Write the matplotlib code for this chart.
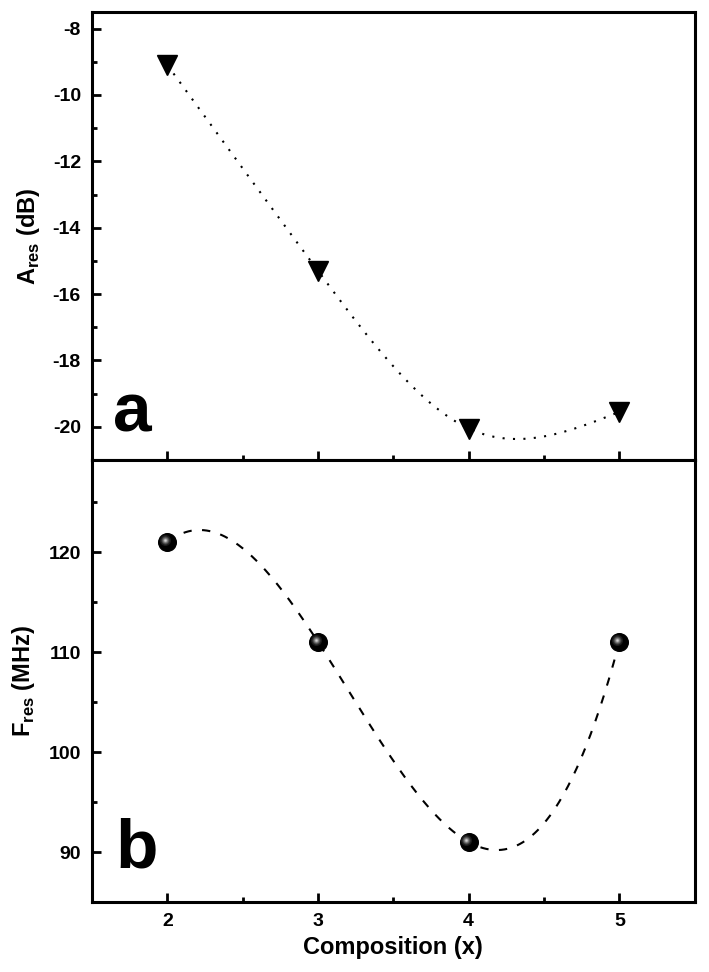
import numpy as np
import matplotlib
matplotlib.use("Agg")
import matplotlib.pyplot as plt
from matplotlib.transforms import ScaledTranslation

plt.rcParams['font.family'] = ['Liberation Sans', 'DejaVu Sans']
plt.rcParams['font.weight'] = 'bold'
plt.rcParams['mathtext.fontset'] = 'custom'
plt.rcParams['mathtext.rm'] = 'Liberation Sans:bold'
plt.rcParams['mathtext.bf'] = 'Liberation Sans:bold'
plt.rcParams['axes.unicode_minus'] = False

# data
comp = [2, 3, 4, 5]
a_res = [-9.1, -15.3, -20.05, -19.55]
f_res = [121, 111, 91, 111]
xticks = [2, 3, 4, 5]
a_ticks = [-8, -10, -12, -14, -16, -18, -20]
f_ticks = [90, 100, 110, 120]


def natural_spline(x, y, n=300):
    x = np.asarray(x, float)
    y = np.asarray(y, float)
    h = np.diff(x)
    m = len(x)
    A = np.zeros((m, m))
    r = np.zeros(m)
    A[0, 0] = A[-1, -1] = 1
    for i in range(1, m - 1):
        A[i, i - 1] = h[i - 1]
        A[i, i] = 2 * (h[i - 1] + h[i])
        A[i, i + 1] = h[i]
        r[i] = 6 * ((y[i + 1] - y[i]) / h[i] - (y[i] - y[i - 1]) / h[i - 1])
    M = np.linalg.solve(A, r)
    xs = np.linspace(x[0], x[-1], n)
    k = np.clip(np.searchsorted(x, xs) - 1, 0, m - 2)
    a = x[k + 1] - xs
    b = xs - x[k]
    hk = h[k]
    ys = (M[k] * a**3 + M[k + 1] * b**3) / (6 * hk) \
        + (y[k] / hk - M[k] * hk / 6) * a + (y[k + 1] / hk - M[k + 1] * hk / 6) * b
    return xs, ys


def poly_curve(x, y, n=300):
    # cubic through the 4 points (same as not-a-knot spline)
    c = np.polyfit(x, y, len(x) - 1)
    xs = np.linspace(min(x), max(x), n)
    return xs, np.polyval(c, xs)


fig = plt.figure(figsize=(7.09, 9.72), dpi=100)
ax1 = fig.add_axes([0.1298, 0.5267, 0.850, 0.461])
ax2 = fig.add_axes([0.1298, 0.072, 0.850, 0.4547])

for ax in (ax1, ax2):
    for s in ax.spines.values():
        s.set_linewidth(2.2)
    ax.tick_params(which='both', direction='in', top=False, right=False, width=2,
                   labelsize=14, pad=8)
    ax.tick_params(which='major', length=6.5)
    ax.tick_params(which='minor', length=3.5)
    ax.set_xlim(1.5, 5.5)
    ax.set_xticks(xticks)
    ax.set_xticks([2.5, 3.5, 4.5], minor=True)

# top panel
xs, ys = natural_spline(comp, a_res)
ax1.plot(xs, ys, color='black', lw=1.5, linestyle=(0, (1, 4)))
ax1.plot(comp, a_res, linestyle='none', marker='v', ms=14, color='black')
ax1.set_ylim(-21, -7.5)
ax1.set_yticks(a_ticks)
ax1.set_yticks(np.arange(-21, -7, 1), minor=True)
ax1.tick_params(axis='x', labelbottom=False)
ax1.set_ylabel(r'A$_{\mathrm{res}}$ (dB)', fontsize=17, fontweight='bold', labelpad=8)
ax1.text(0.035, 0.063, 'a', transform=ax1.transAxes, fontsize=50, fontweight='bold',
         va='baseline', ha='left')

# bottom panel
xs, ys = poly_curve(comp, f_res)
ax2.plot(xs, ys, color='black', lw=1.5, linestyle=(0, (4, 5)))
ax2.plot(comp, f_res, linestyle='none', marker='o', ms=12.7, color='black',
         markeredgecolor='black')
# sphere highlight
shift = ScaledTranslation(-2.5 / 100, 2.5 / 100, fig.dpi_scale_trans)
for size, col in [(8, '#1a1a1a'), (6, '#3c3c3c'), (4.5, '#666666'), (3, '#999999'), (1.6, '#d0d0d0')]:
    ax2.plot(comp, f_res, linestyle='none', marker='o', ms=size, color=col,
             markeredgewidth=0, transform=ax2.transData + shift)
ax2.set_ylim(85, 129.2)
ax2.set_yticks(f_ticks)
ax2.set_yticks(np.arange(85, 130, 5), minor=True)
ax2.set_ylabel(r'F$_{\mathrm{res}}$ (MHz)', fontsize=17, fontweight='bold', labelpad=8)
ax2.set_xlabel('Composition (x)', fontsize=17, fontweight='bold', labelpad=4)
ax2.text(0.038, 0.077, 'b', transform=ax2.transAxes, fontsize=50, fontweight='bold',
         va='baseline', ha='left')

fig.savefig('out.png', dpi=100)
